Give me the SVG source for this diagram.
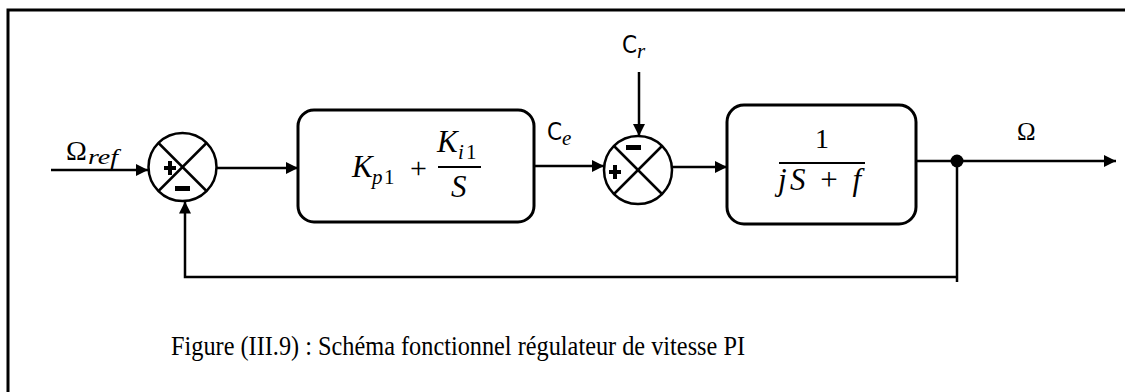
<svg xmlns="http://www.w3.org/2000/svg" width="1125" height="392" viewBox="0 0 1125 392">
<style>
.ln{stroke:#000;stroke-width:2.5;fill:none}
.box{stroke:#000;stroke-width:3;fill:#fff}
.sum{stroke:#000;stroke-width:2.5;fill:#fff}
.m{font-family:"Liberation Serif",serif;font-style:italic;fill:#000}
.up{font-family:"Liberation Serif",serif;fill:#000}
.c{font-family:"DejaVu Sans",sans-serif;font-stretch:condensed;fill:#000}
.cap{font-family:"Liberation Serif",serif;font-size:28px;fill:#000}
</style>
<defs>
<marker id="ah" markerWidth="12" markerHeight="12" refX="12" refY="6" orient="auto" markerUnits="userSpaceOnUse">
<path d="M0,0 L12,6 L0,12 Z" fill="#000"/>
</marker>
</defs>
<rect width="1125" height="392" fill="#fff"/>
<g id="frame">
<path d="M8,392 V10 H1125" stroke="#000" stroke-width="3" fill="none"/>
</g>
<g id="connectors">
<line class="ln" x1="51" y1="170" x2="148" y2="170" marker-end="url(#ah)"/>
<line class="ln" x1="217" y1="168" x2="298" y2="168" marker-end="url(#ah)"/>
<line class="ln" x1="534" y1="166" x2="604" y2="166" marker-end="url(#ah)"/>
<line class="ln" x1="639" y1="72" x2="639" y2="136" marker-end="url(#ah)"/>
<line class="ln" x1="672" y1="167" x2="727" y2="167" marker-end="url(#ah)"/>
<line class="ln" x1="916" y1="161" x2="1116" y2="161" marker-end="url(#ah)"/>
<path class="ln" d="M957,161 V282"/>
<path class="ln" d="M957,277 H185 V201.5" marker-end="url(#ah)"/>
<circle cx="957" cy="161" r="6.5" fill="#000"/>
</g>
<g id="sum1">
<circle class="sum" cx="182.5" cy="167" r="34"/>
<line class="ln" x1="158.5" y1="143" x2="206.5" y2="191"/>
<line class="ln" x1="206.5" y1="143" x2="158.5" y2="191"/>
<path d="M164,166 h4 v-5 h4 v5 h4 v4 h-4 v5 h-4 v-5 h-4 z" fill="#000"/>
<rect x="175" y="186" width="15" height="5" fill="#000"/>
</g>
<g id="sum2">
<circle class="sum" cx="638" cy="170" r="34"/>
<line class="ln" x1="614" y1="146" x2="662" y2="194"/>
<line class="ln" x1="662" y1="146" x2="614" y2="194"/>
<path d="M609,170 h4 v-5 h4 v5 h4 v4 h-4 v5 h-4 v-5 h-4 z" fill="#000"/>
<rect x="626" y="145" width="15" height="5" fill="#000"/>
</g>
<g id="pi">
<rect class="box" x="298" y="110" width="236" height="112" rx="16"/>
<text class="m" x="352" y="177" font-size="31">K</text>
<text class="m" x="372" y="184" font-size="21">p</text>
<text class="up" x="384" y="184" font-size="21">1</text>
<text class="up" x="410" y="178" font-size="30">+</text>
<text class="m" x="437" y="152" font-size="31">K</text>
<text class="m" x="458" y="159" font-size="21">i</text>
<text class="up" x="466" y="159" font-size="21">1</text>
<line x1="438" y1="167" x2="481" y2="167" stroke="#000" stroke-width="2"/>
<text class="m" x="451" y="197" font-size="31">S</text>
</g>
<g id="plant">
<rect class="box" x="727" y="105" width="189" height="119" rx="17"/>
<text class="up" x="822" y="148" font-size="28" text-anchor="middle">1</text>
<line x1="779" y1="163" x2="865" y2="163" stroke="#000" stroke-width="2"/>
<text class="m" x="778" y="190" font-size="31" textLength="83" lengthAdjust="spacing">jS <tspan font-style="normal">+</tspan> f</text>
</g>
<g id="labels">
<text class="up" x="66" y="160" font-size="28">Ω</text>
<text class="m" x="88" y="164" font-size="21" textLength="30" lengthAdjust="spacingAndGlyphs">ref</text>
<text class="c" x="547" y="140" font-size="24">C</text>
<text class="m" x="562" y="145" font-size="21">e</text>
<text class="c" x="622" y="53" font-size="24">C</text>
<text class="m" x="637" y="58" font-size="21">r</text>
<text class="up" x="1017" y="140" font-size="25">Ω</text>
</g>
<g id="caption">
<text class="cap" x="171" y="355" textLength="574" lengthAdjust="spacingAndGlyphs">Figure (III.9) : Schéma fonctionnel régulateur de vitesse PI</text>
</g>
</svg>
